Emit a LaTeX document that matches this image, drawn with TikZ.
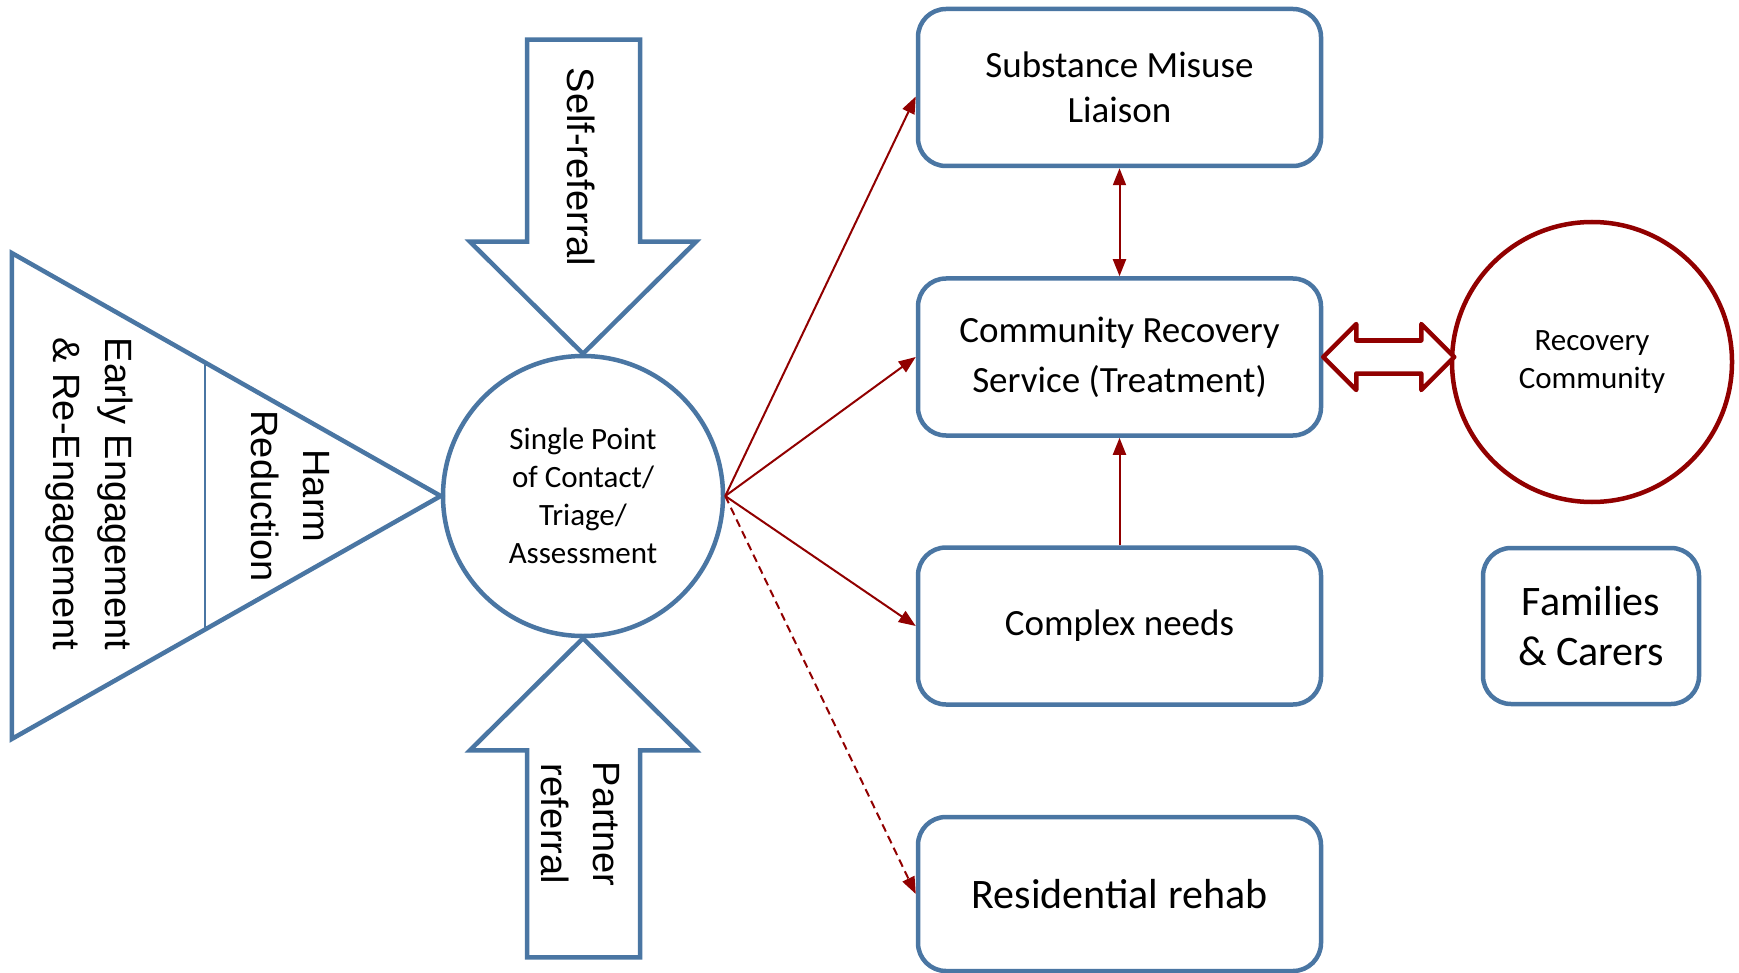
\documentclass[tikz,border=0pt]{standalone}
\usepackage{fontspec}
\setmainfont{Carlito}
\newfontfamily\arialfont{Liberation Sans}
\usepackage{tikz}
\usetikzlibrary{arrows.meta,positioning,calc}
\definecolor{frameblue}{RGB}{74,118,163}
\definecolor{linkred}{RGB}{145,0,0}

\begin{document}
\begin{tikzpicture}[x=1pt, y=-1pt, >={Triangle[length=17pt, width=13pt]},
        svcbox/.style={draw=frameblue, line width=4.5pt, fill=white, rounded corners=28pt, minimum width=403pt, minimum height=157pt, align=center, inner sep=0pt},
        hub/.style={draw=frameblue, line width=4.5pt, fill=white, circle, minimum size=280pt, inner sep=0pt, align=center},
        blockshape/.style={draw=frameblue, line width=4.5pt, fill=white},
        sidetext/.style={rotate=-90, inner sep=0pt, align=center, font=\arialfont\fontsize{38}{52}\selectfont},
        link/.style={draw=linkred, line width=2pt}]
        \useasboundingbox (0,0) rectangle (1739,973);

        \node[hub, font=\fontsize{31}{38}\selectfont] (sp) at (583,496) {Single Point\\of Contact/\\Triage/\\Assessment};

        \draw[blockshape] (sp.west) -- ++(-429,-243) -- ++(0,486) -- cycle;
        \draw[frameblue, line width=2.5pt] ($(sp.west)+(-236,-133.7)$) -- ($(sp.west)+(-236,133.7)$);
        \draw[blockshape] (sp.north) -- ++(-113,-112) -- ++(57,0) -- ++(0,-202) -- ++(113,0) -- ++(0,202) -- ++(56,0) -- cycle;
        \draw[blockshape] (sp.south) -- ++(-113,112) -- ++(57,0) -- ++(0,207) -- ++(113,0) -- ++(0,-207) -- ++(56,0) -- cycle;

        \node[sidetext] (selfref) at (581,167) {Self-referral};
        \node[sidetext] (partref) at (580,824) {Partner\\referral};
        \node[sidetext] (early) at (89,494) {Early Engagement\\\& Re-Engagement};
        \node[sidetext] (harm) at (290,496) {Harm\\Reduction};

        \node[svcbox, font=\fontsize{37}{45}\selectfont] (smd) at (1119.5,87.5) {Substance Misuse\\Liaison};
        \node[svcbox, font=\fontsize{37}{50}\selectfont] (crs) at (1119.5,357) {Community Recovery\\Service (Treatment)};
        \node[svcbox, font=\fontsize{37}{45}\selectfont] (cx) at (1119.5,626) {Complex needs};
        \node[svcbox, minimum height=154pt, font=\fontsize{42}{50}\selectfont] (rehab) at (1119.5,894) {Residential rehab};
        \node[hub, draw=linkred, font=\fontsize{31}{38}\selectfont] (rc) at (1592,362) {Recovery\\Community};
        \node[svcbox, minimum width=216pt, minimum height=156pt, font=\fontsize{42}{50}\selectfont] (fam) at (1591,626) {Families\\\& Carers};

        \draw[link, ->] (sp.east) -- ([yshift=-9pt]smd.west);
        \draw[link, ->] (sp.east) -- (crs.west);
        \draw[link, ->] (sp.east) -- (cx.west);
        \draw[link, ->, dash pattern=on 8pt off 5pt] (sp.east) -- (rehab.west);
        \draw[link, <->] (smd.south) -- (crs.north);
        \draw[link, ->] (cx.north) -- (crs.south);

        \draw[blockshape, draw=linkred, line join=round] (crs.east) -- ++(33,-33) -- ++(0,16.5) -- ++(65,0) -- ++(0,-16.5) -- ++(33,33) -- ++(-33,33) -- ++(0,-16.5) -- ++(-65,0) -- ++(0,16.5) -- cycle;
    \end{tikzpicture}
\end{document}
